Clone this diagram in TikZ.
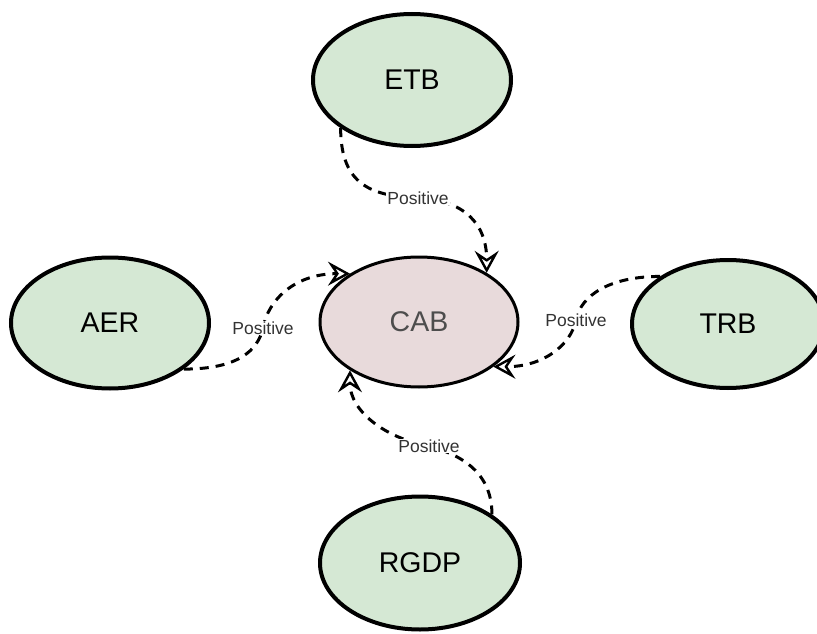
\documentclass[tikz,border=0pt]{standalone}
\usepackage{fontspec}
\setmainfont{Liberation Sans}
\usetikzlibrary{shapes.geometric,arrows.meta}
\definecolor{nodegreen}{HTML}{D5E8D4}
\definecolor{nodepink}{HTML}{E8DADB}
\definecolor{cabtext}{HTML}{4D4D4D}
\definecolor{lbltext}{HTML}{333333}
\begin{document}
\begin{tikzpicture}[x=1pt,y=-1pt,
  varnode/.style={ellipse, draw=black, line width=4pt, fill=nodegreen,
    minimum width=198pt, minimum height=131pt, inner sep=0pt,
    font=\fontsize{28.5}{33}\selectfont},
  centernode/.style={varnode, fill=nodepink, line width=3pt, text=cabtext},
  link/.style={draw=black, line width=3pt, dash pattern=on 9pt off 7pt,
    -{Stealth[open, length=22pt, width=24pt, inset=8pt, line width=2.4pt]}},
  lbl/.style={fill=white, inner sep=1pt, text=lbltext,
    font=\fontsize{17.5}{20}\selectfont}]
\useasboundingbox (0,0) rectangle (817,634);
\clip (0,0) rectangle (817,634);
\node[varnode, minimum height=132pt] (etb) at (412,80) {ETB};
\node[centernode, minimum height=130pt] (cab) at (419,322) {CAB};
\node[varnode] (aer) at (110,323) {AER};
\node[varnode, minimum width=192pt, minimum height=128pt] (trb) at (728,324) {TRB};
\node[varnode, minimum width=200pt, minimum height=133pt] (rgdp) at (420,563) {RGDP};
\coordinate (m1) at (418,198);
\coordinate (m2) at (263,328);
\coordinate (m3) at (576,320);
\coordinate (m4) at (429,446);
\draw[link] (etb.214) .. controls +(0,58) and +(-45,-2) .. (m1)
  .. controls +(45,2) and +(0,-50) .. (cab.36);
\draw[link] (aer.328) .. controls +(55,0) and +(-5,22) .. (m2)
  .. controls +(5,-28) and +(-55,0) .. (cab.145);
\draw[link] (trb.145) .. controls +(-50,0) and +(5,-25) .. (m3)
  .. controls +(-5,25) and +(50,0) .. (cab.329);
\draw[link] (rgdp.34) .. controls +(0,-45) and +(28,8) .. (m4)
  .. controls +(-45,-8) and +(0,40) .. (cab.215);
\node[lbl] (l1) at (m1) {Positive};
\node[lbl] (l2) at (m2) {Positive};
\node[lbl] (l3) at (m3) {Positive};
\node[lbl] (l4) at (m4) {Positive};
\end{tikzpicture}
\end{document}
